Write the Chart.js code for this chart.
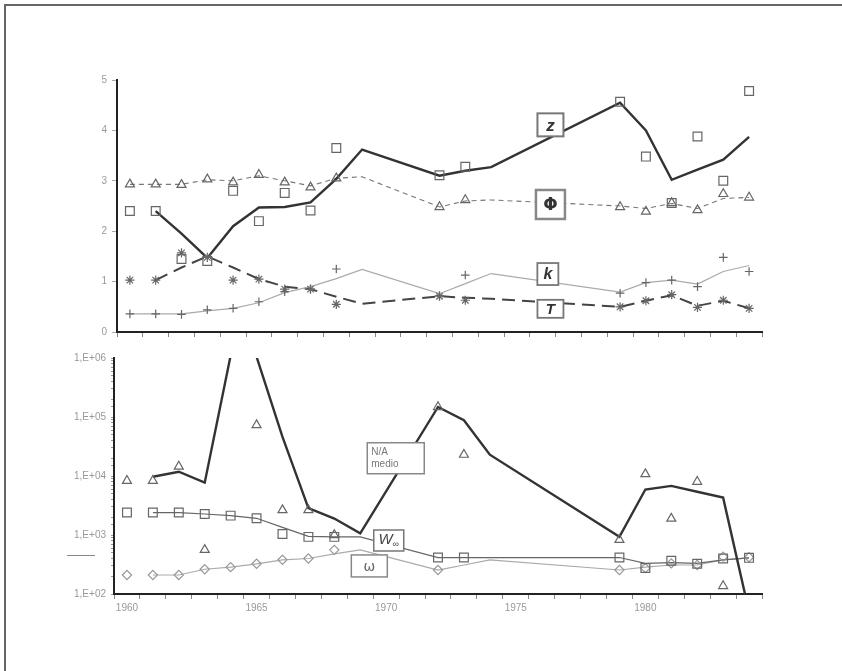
<!DOCTYPE html>
<html><head><meta charset="utf-8">
<script src="https://cdn.jsdelivr.net/npm/chart.js@4.4.1/dist/chart.umd.min.js"></script>
<style>
html,body{margin:0;padding:0;background:#fff}
#page{position:relative;width:842px;height:671px;overflow:hidden;background:#fff}
.frame{position:absolute;left:4px;top:4px;width:900px;height:900px;border-left:2px solid #666;border-top:2px solid #666}
.wrap{position:absolute;left:0;top:0;width:842px;height:671px}
.stub{position:absolute;left:67px;top:555px;width:28px;height:1px;background:#888}
</style></head>
<body>
<div id="page">
  <div class="frame"></div>
  <div class="stub"></div>
  <div class="wrap"><canvas id="c-top"></canvas></div>
  <div class="wrap"><canvas id="c-bot"></canvas></div>
</div>
<script>
// ══════════════════════════════════════
//  DATA
// ══════════════════════════════════════
const yearLabels=[1960,1965,1970,1975,1980];
const topTicks=[0,1,2,3,4,5];

// top panel
const topMarkYears=[1960,1961,1962,1963,1964,1965,1966,1967,1968,1972,1973,1979,1980,1981,1982,1983,1984];
const topLineYears=[1960,1961,1962,1963,1964,1965,1966,1967,1968,1969,1972,1973,1974,1979,1980,1981,1982,1983,1984];
const zPts  =[2.4,2.4,1.45,1.41,2.8,2.2,2.76,2.41,3.65,3.11,3.28,4.57,3.48,2.56,3.88,3.0,4.78];
const zLine =[null,2.4,1.95,1.47,2.1,2.47,2.48,2.57,3.04,3.62,3.1,3.2,3.27,4.55,4.0,3.02,3.22,3.42,3.87];
const phiPts =[2.93,2.93,2.92,3.03,2.97,3.12,2.97,2.87,3.05,2.48,2.62,2.48,2.39,2.56,2.42,2.74,2.67];
const phiLine=[2.93,2.93,2.93,3.02,3.0,3.1,3.0,2.9,3.05,3.08,2.48,2.6,2.62,2.5,2.45,2.55,2.45,2.65,2.67];
const kPts  =[0.36,0.36,0.35,0.44,0.47,0.6,0.8,0.85,1.25,0.72,1.13,0.77,0.98,1.03,0.9,1.48,1.2];
const kLine =[0.36,0.36,0.36,0.42,0.47,0.58,0.78,0.9,1.06,1.24,0.76,0.96,1.16,0.79,0.98,1.03,0.95,1.2,1.32];
const tPts  =[1.03,1.03,1.57,1.48,1.03,1.05,0.85,0.85,0.55,0.71,0.63,0.5,0.62,0.74,0.49,0.63,0.47];
const tLine =[null,1.03,1.28,1.5,1.28,1.05,0.9,0.85,0.7,0.56,0.71,0.68,0.66,0.5,0.62,0.73,0.52,0.62,0.47];

// bottom panel (log)
const botLineYears=[1961,1962,1963,1964,1965,1966,1967,1968,1969,1972,1973,1974,1979,1980,1981,1982,1983,1984];
const naYears=[1960,1961,1962,1963,1965,1966,1967,1968,1972,1973,1979,1980,1981,1982,1983];
const naPts  =[8300,8300,14500,560,73000,2650,2650,1000,148000,23000,830,10800,1900,8000,137];
const naLine =[9700,11800,7700,1100000,1050000,46000,2850,1900,1070,148000,88000,23000,930,5900,6800,5400,4300,50];
const wYears =[1960,1961,1962,1963,1964,1965,1966,1967,1968,1972,1973,1979,1980,1981,1982,1983,1984];
const wPts   =[2400,2400,2400,2270,2130,1920,1040,930,930,415,415,415,275,365,325,400,410];
const wLine  =[2400,2400,2270,2130,1920,1350,950,930,930,415,415,415,415,330,340,330,380,410];
const omYears=[1960,1961,1962,1963,1964,1965,1966,1967,1968,1972,1979,1980,1981,1982,1983,1984];
const omPts  =[210,210,210,263,285,325,380,400,560,255,255,275,330,310,430,420];
const omLine =[210,210,263,285,325,380,400,480,560,255,310,380,255,285,310,310,380,410];

// ══════════════════════════════════════
//  HELPERS
// ══════════════════════════════════════
const FONT='"Liberation Sans", Arial, sans-serif';
const X0=1959.5, X1=1984.5;
const halfTicks=[]; for(let v=X0;v<=X1;v++) halfTicks.push(v);
const pair=(xs,ys)=>xs.map((x,i)=>({x,y:ys[i]}));
const NONE='rgba(0,0,0,0)';

function marks(data,style,color,r,bw){
  return {data,showLine:false,pointStyle:style,pointRadius:r,pointHoverRadius:r,borderColor:color,pointBorderColor:color,
    pointBackgroundColor:NONE,pointBorderWidth:bw||1.2,order:0};
}
function line(data,color,w,dash){
  return {data,showLine:true,borderColor:color,borderWidth:w,borderDash:dash||[],pointRadius:0,pointHoverRadius:0,
    tension:0,spanGaps:false,order:1,fill:false};
}
function xScales(withLabels){
  const s={
    x:{type:'linear',position:'bottom',min:X0,max:X1,weight:0,
      afterBuildTicks:a=>{a.ticks=halfTicks.map(v=>({value:v}));},
      afterFit:a=>{a.height=6;},
      ticks:{display:false},
      grid:{drawOnChartArea:false,tickLength:5,color:'#888',lineWidth:1},
      border:{color:'#222',width:2}}
  };
  if(withLabels) s.xl={type:'linear',position:'bottom',min:X0,max:X1,weight:1,
    afterBuildTicks:a=>{a.ticks=yearLabels.map(v=>({value:v}));},
    afterFit:a=>{a.height=20;},
    ticks:{color:'#999',font:{family:FONT,size:10},padding:2,maxRotation:0,autoSkip:false,callback:v=>String(v)},
    grid:{display:false,drawTicks:false,tickLength:0},border:{display:false}};
  return s;
}
// boxed labels drawn at data coords
function boxLabels(items){
  return {id:'boxLabels',afterDatasetsDraw(chart){
    const {ctx,scales:{x,y}}=chart;
    items.forEach(it=>{
      const cx=x.getPixelForValue(it.x), cy=y.getPixelForValue(it.y);
      ctx.save();
      ctx.fillStyle='#fff'; ctx.fillRect(cx-it.w/2,cy-it.h/2,it.w,it.h);
      ctx.strokeStyle=it.stroke||'#777'; ctx.lineWidth=it.lw||1.5;
      ctx.strokeRect(cx-it.w/2,cy-it.h/2,it.w,it.h);
      ctx.fillStyle=it.color||'#333'; ctx.font=it.font; ctx.textBaseline='middle';
      if(it.lines){
        ctx.textAlign='left';
        it.lines.forEach((t,i)=>ctx.fillText(t,cx-it.w/2+4,cy+(i-(it.lines.length-1)/2)*12));
      }else if(it.sub){
        ctx.textAlign='left';
        const tw=ctx.measureText(it.text).width;
        ctx.font=it.subFont; const sw=ctx.measureText(it.sub).width;
        const x0=cx-(tw+sw)/2;
        ctx.font=it.font; ctx.fillText(it.text,x0,cy-1);
        ctx.font=it.subFont; ctx.fillText(it.sub,x0+tw,cy+4);
      }else{
        ctx.textAlign='center'; ctx.fillText(it.text,cx,cy+1);
      }
      ctx.restore();
    });
  }};
}
const baseOpts={responsive:true,maintainAspectRatio:false,animation:false,
  plugins:{legend:{display:false},tooltip:{enabled:false}},events:[]};

// ══════════════════════════════════════
//  TOP PANEL
// ══════════════════════════════════════
new Chart(document.getElementById('c-top'),{type:'scatter',
  data:{datasets:[
    marks(pair(topMarkYears,zPts),'rect','#666',6.2),
    marks(pair(topMarkYears,phiPts),'triangle','#666',5.2),
    marks(pair(topMarkYears,kPts),'cross','#666',4.3),
    marks(pair(topMarkYears,tPts),'star','#666',4.6),
    line(pair(topLineYears,zLine),'#333',2.4),
    line(pair(topLineYears,phiLine),'#777',1.1,[5,4]),
    line(pair(topLineYears,kLine),'#aaa',1.2),
    line(pair(topLineYears,tLine),'#444',2,[13,7])
  ]},
  options:{...baseOpts,
    layout:{padding:{top:80,left:0,right:80,bottom:333}},
    scales:{...xScales(false),
      y:{type:'linear',min:0,max:5,
        afterBuildTicks:a=>{a.ticks=topTicks.map(v=>({value:v}));},
        afterFit:a=>{a.width=117;},
        ticks:{color:'#999',font:{family:FONT,size:10},padding:5},
        grid:{drawOnChartArea:false,tickLength:5,color:'#aaa'},
        border:{color:'#222',width:2}}
    }},
  plugins:[boxLabels([
    {x:1976.3,y:4.11,w:26,h:23,text:'z',font:'italic bold 17px '+FONT,lw:2},
    {x:1976.3,y:2.53,w:29,h:29,text:'Φ',font:'bold 17px "DejaVu Sans"',lw:2.5,stroke:'#888'},
    {x:1976.2,y:1.15,w:21,h:22,text:'k',font:'italic bold 16px '+FONT,lw:1.8},
    {x:1976.3,y:0.46,w:26,h:18,text:'T',font:'italic bold 15px '+FONT,lw:1.8}
  ])]
});

// ══════════════════════════════════════
//  BOTTOM PANEL
// ══════════════════════════════════════
const isDecade=v=>Math.abs(Math.log10(v)-Math.round(Math.log10(v)))<1e-9;
new Chart(document.getElementById('c-bot'),{type:'scatter',
  data:{datasets:[
    marks(pair(naYears,naPts),'triangle','#666',5.2),
    marks(pair(wYears,wPts),'rect','#666',6.2),
    marks(pair(omYears,omPts),'rectRot','#999',4.6),
    line(pair(botLineYears,naLine),'#333',2.4),
    line(pair(botLineYears,wLine),'#666',1.2),
    line(pair(botLineYears,omLine),'#aaa',1.2)
  ]},
  options:{...baseOpts,
    layout:{padding:{top:358,left:0,right:80,bottom:51}},
    scales:{...xScales(true),
      y:{type:'logarithmic',min:100,max:1000000,
        afterFit:a=>{a.width=114;},
        ticks:{color:'#999',font:{family:FONT,size:10},padding:5,autoSkip:false,
          callback:v=>isDecade(v)?'1,E+'+String(Math.round(Math.log10(v))).padStart(2,'0'):''},
        grid:{drawOnChartArea:false,tickLength:3,color:'#999'},
        border:{color:'#222',width:2}}
    }},
  plugins:[boxLabels([
    {x:1970.37,y:20000,w:57,h:31,lines:['N/A','medio'],font:'10px '+FONT,color:'#777',lw:1.5,stroke:'#888'},
    {x:1970.1,y:807,w:30,h:21,text:'W',sub:'∞',font:'italic 15px '+FONT,subFont:'9px '+FONT,color:'#444',lw:1.5},
    {x:1969.35,y:299,w:36,h:22,text:'ω',font:'14px "DejaVu Sans"',color:'#666',lw:1.5,stroke:'#888'}
  ])]
});
</script>
</body></html>
